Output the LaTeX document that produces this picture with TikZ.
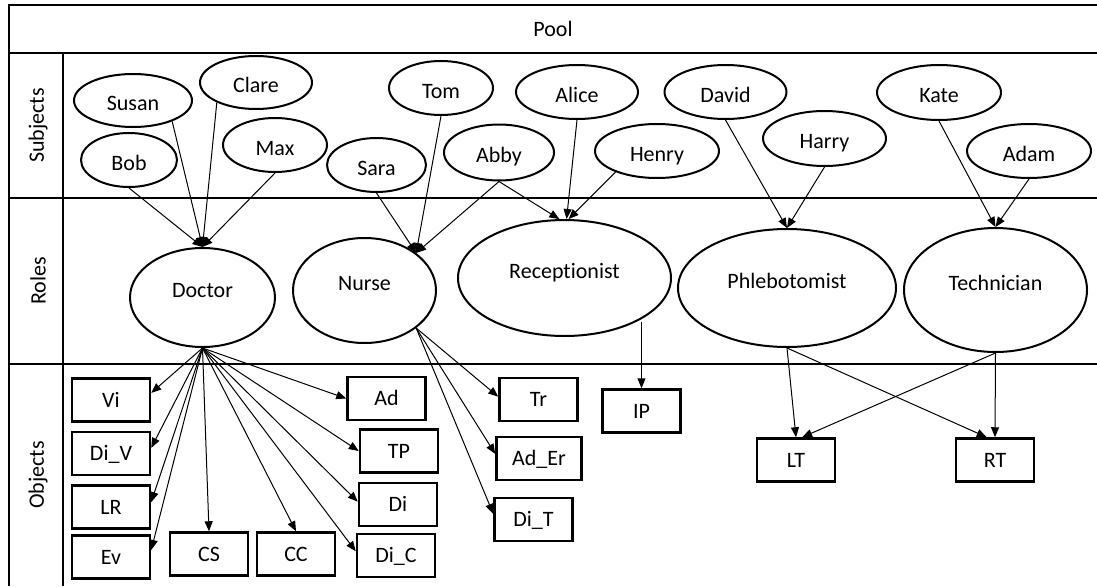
\documentclass[tikz,border=0pt]{standalone}
\usepackage{fontspec}
\setmainfont{Carlito}[Ligatures=NoCommon]
\usetikzlibrary{shapes.geometric,arrows.meta}
\begin{document}
\begin{tikzpicture}[x=1pt,y=-1pt,
  every node/.style={font=\fontsize{22}{26}\selectfont},
  subj/.style={ellipse,draw,line width=2pt,inner sep=0pt,text height=20pt,text depth=0pt},
  role/.style={ellipse,draw,line width=2pt,inner sep=0pt,text height=10pt,text depth=10pt},
  obj/.style={rectangle,draw,line width=2.5pt,inner sep=0pt,minimum width=78pt,minimum height=43pt,text height=14pt,text depth=0pt},
  link/.style={line width=1pt,-{Triangle[length=10pt,width=8pt]}},
  frame/.style={line width=2pt},
  rowlabel/.style={rotate=90}]
\useasboundingbox (0,0) rectangle (1097,586);

% table frame
\draw[frame] (9,586) -- (9,5) -- (1097,5);
\draw[frame] (9,53) -- (1097,53);
\draw[frame] (9,198) -- (1097,198);
\draw[frame] (9,364) -- (1097,364);
\draw[frame] (63,53) -- (63,586);

\node (pool) at (553,29) {Pool};
\node[rowlabel] (lsub) at (38,125.5) {Subjects};
\node[rowlabel] (lrol) at (38,281) {Roles};
\node[rowlabel] (lobj) at (38,475) {Objects};

% subjects
\node[subj,minimum width=118pt,minimum height=53pt] (Susan) at (133,100.5) {Susan};
\node[subj,minimum width=112pt,minimum height=53pt] (Clare) at (256,82.5) {Clare};
\node[subj,minimum width=96pt,minimum height=54pt] (Bob) at (129,160) {Bob};
\node[subj,minimum width=104pt,minimum height=54pt] (Max) at (275,145) {Max};
\node[subj,minimum width=99pt,minimum height=54pt] (Sara) at (376.5,165) {Sara};
\node[subj,minimum width=104pt,minimum height=54pt] (Tom) at (441,88) {Tom};
\node[subj,minimum width=110pt,minimum height=56pt] (Abby) at (499,152.5) {Abby};
\node[subj,minimum width=122pt,minimum height=54pt] (Alice) at (577,92) {Alice};
\node[subj,minimum width=124pt,minimum height=54pt] (Henry) at (657,151) {Henry};
\node[subj,minimum width=122pt,minimum height=54pt] (David) at (725.5,92) {David};
\node[subj,minimum width=123pt,minimum height=55pt] (Harry) at (824.5,138.5) {Harry};
\node[subj,minimum width=124pt,minimum height=55pt] (Kate) at (939,92.5) {Kate};
\node[subj,minimum width=124pt,minimum height=54pt] (Adam) at (1029,151) {Adam};

% roles
\node[role,minimum width=145pt,minimum height=99pt] (Doctor) at (202.5,297.5) {Doctor};
\node[role,minimum width=143pt,minimum height=105pt] (Nurse) at (364.5,290.5) {Nurse};
\node[role,minimum width=213pt,minimum height=116pt] (Receptionist) at (564.5,278) {Receptionist};
\node[role,minimum width=218pt,minimum height=118pt] (Phlebotomist) at (787,288) {Phlebotomist};
\node[role,minimum width=183pt,minimum height=124pt] (Technician) at (995.5,290) {Technician};

% objects
\node[obj] (Vi) at (111,400) {Vi};
\node[obj] (DiV) at (111,453.5) {Di\_V};
\node[obj] (LR) at (111,507) {LR};
\node[obj] (Ev) at (111,557) {Ev};
\node[obj] (CS) at (209,554) {CS};
\node[obj] (CC) at (296,554) {CC};
\node[obj] (Ad) at (386.5,398.5) {Ad};
\node[obj] (TP) at (399,451) {TP};
\node[obj] (Di) at (398,504.5) {Di};
\node[obj] (DiC) at (396,555.5) {Di\_C};
\node[obj] (Tr) at (538.5,399.5) {Tr};
\node[obj,minimum width=85pt] (AdEr) at (539,458.5) {Ad\_Er};
\node[obj] (DiT) at (533.5,519.5) {Di\_T};
\node[obj] (IP) at (641.5,411) {IP};
\node[obj] (LT) at (796,460) {LT};
\node[obj] (RT) at (995,460) {RT};

% subject -> role assignments
\draw[link] (Bob.south) -- (Doctor.north);
\draw[link] (Susan.-28) -- (Doctor.north);
\draw[link] (Clare.207) -- (Doctor.north);
\draw[link] (Max.south) -- (Doctor.north);
\draw[link] (Sara.south) -- (Nurse.36);
\draw[link] (Tom.south) -- (Nurse.36);
\draw[link] (Abby.south) -- (Nurse.36);
\draw[link] (Abby.south) -- (Receptionist.95);
\draw[link] (Alice.south) -- (Receptionist.88);
\draw[link] (Henry.207) -- (Receptionist.86);
\draw[link] (David.south) -- (Phlebotomist.north);
\draw[link] (Harry.south) -- (Phlebotomist.north);
\draw[link] (Kate.south) -- (Technician.north);
\draw[link] (Adam.south) -- (Technician.north);

% role -> object permissions
\draw[link] (Doctor.south) -- (Vi.10);
\draw[link] (Doctor.south) -- (DiV.8);
\draw[link] (Doctor.south) -- (LR.7);
\draw[link] (Doctor.south) -- (Ev.10);
\draw[link] (Doctor.south) -- (CS.north);
\draw[link] (Doctor.south) -- (CC.north);
\draw[link] (Doctor.south) -- (Ad.west);
\draw[link] (Doctor.south) -- (TP.west);
\draw[link] (Doctor.south) -- (Di.176);
\draw[link] (Doctor.south) -- (DiC.174);
\draw[link] (Nurse.-36) -- (Tr.176);
\draw[link] (Nurse.-36) -- (AdEr.174);
\draw[link] (Nurse.-36) -- (DiT.172);
\draw[link] (Receptionist.-31 -| IP.north) -- (IP.north);
\draw[link] (Phlebotomist.south) -- (LT.north);
\draw[link] (Phlebotomist.south) -- (RT.110);
\draw[link] (Technician.south) -- (RT.north);
\draw[link] (Technician.south) -- (LT.75);
\end{tikzpicture}
\end{document}
